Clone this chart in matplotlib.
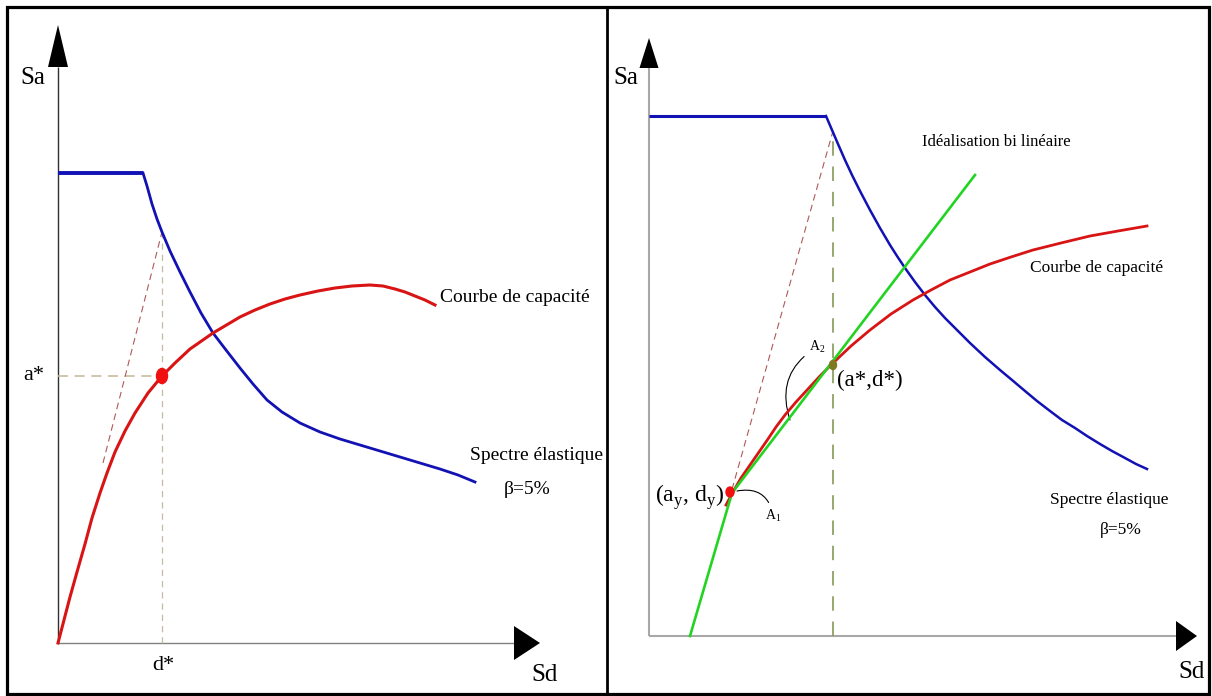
import matplotlib
matplotlib.use("Agg")
import matplotlib.pyplot as plt
import numpy as np
from matplotlib.patches import Rectangle, Ellipse
from matplotlib.lines import Line2D

plt.rcParams['font.family'] = ['Liberation Serif', 'DejaVu Serif']
plt.rcParams['mathtext.fontset'] = 'custom'
plt.rcParams['mathtext.rm'] = 'Liberation Serif'

# ---------------- Left panel: capacity curve vs. elastic spectrum ----------------
left_spec_sd = [0, 85, 89, 94, 99, 104, 112, 122, 132, 143, 155, 168, 182, 195, 209, 224,
                242, 262, 282, 302, 322, 342, 362, 382, 400, 417]
left_spec_sa = [470, 470, 457, 439, 424, 411, 392, 371, 351, 330, 310, 293, 275, 259, 243, 231,
                220, 211, 204, 198, 192, 186, 180, 174, 168, 161]

left_cap_sd = [0, 6, 12, 19, 27, 34, 42, 49, 57, 67, 77, 90, 104, 117, 132, 155, 182, 197,
               212, 227, 242, 260, 277, 294, 312, 325, 337, 347, 357, 367, 377]
left_cap_sa = [0, 23, 46, 71, 99, 125, 150, 170, 191, 212, 230, 250, 267, 280, 294, 310, 326, 333,
               339, 344, 348, 352, 355, 357, 358, 357, 354, 351, 347, 343, 338]

left_d_star, left_a_star = 104, 267
left_elastic_sd = [45, 104]
left_elastic_sa = [180, 411]

# ---------------- Right panel: bilinear idealisation ----------------
right_spec_sd = [0, 177, 183, 189, 196, 203, 211, 221, 231, 241, 248, 256, 266, 276, 286, 296,
                 308, 321, 336, 351, 363, 376, 388, 401, 413, 426, 438, 451, 463, 476, 487, 498]
right_spec_sa = [520, 520, 506, 492, 476, 461, 445, 426, 408, 391, 380, 368, 354, 341, 329, 318,
                 306, 293, 279, 266, 256, 245, 235, 225, 216, 208, 200, 192, 185, 178, 172, 167]

right_cap_sd = [77, 84, 92, 101, 110, 119, 127, 136, 147, 159, 171, 184, 202, 221, 242, 264,
                282, 301, 321, 341, 362, 384, 412, 441, 469, 498]
right_cap_sa = [131, 144, 158, 171, 184, 197, 209, 221, 234, 247, 260, 273, 290, 306, 322, 336,
                346, 356, 364, 372, 379, 386, 393, 400, 405, 410]

bilin_sd = [41, 83, 326]
bilin_sa = [0, 143, 461]

d_y, a_y = 83, 143
d_star, a_star = 184, 273
right_elastic_sd = [80, 184]
right_elastic_sa = [136, 505]

W, H = 1212, 696
fig = plt.figure(figsize=(W / 100, H / 100), dpi=100)
fig.patch.set_facecolor('white')

BLUE = '#1212b4'
RED = '#d81414'
GREEN = '#22d422'


def make_panel(rect, ox, oy, width):
    ax = fig.add_axes(rect)
    ax.set_xlim(-ox, width - ox)
    ax.set_ylim(-(H - oy), oy)
    ax.axis('off')
    return ax


def draw_axes(ax, x_end, y_end, head_len_x, head_half_x, head_len_y, head_half_y,
              color_x, color_y, lw):
    ax.plot([0, x_end - head_len_x], [0, 0], color=color_x, lw=lw, solid_capstyle='butt', zorder=1)
    ax.plot([0, 0], [0, y_end - head_len_y], color=color_y, lw=lw, solid_capstyle='butt', zorder=1)
    ax.fill([x_end - head_len_x, x_end, x_end - head_len_x],
            [-head_half_x, 0, head_half_x], color='black', lw=0, zorder=5)
    ax.fill([-head_half_y, 0, head_half_y],
            [y_end - head_len_y, y_end, y_end - head_len_y], color='black', lw=0, zorder=5)


# ---------- left ----------
axL = make_panel([0, 0, 606 / W, 1], 58, 643, 606)
draw_axes(axL, 482, 618, 26, 17, 42, 10, '#808080', '#303030', 1.0)

left_top = np.interp(left_d_star, left_spec_sd[1:], left_spec_sa[1:])
axL.plot([0, left_d_star], [left_a_star, left_a_star], color='#c8bc9c', lw=1.2,
         dashes=(6, 4), zorder=2)
axL.plot([left_d_star, left_d_star], [0, left_top], color='#c4baa8', lw=0.9,
         dashes=(5, 4), zorder=2)
axL.plot(left_elastic_sd, left_elastic_sa, color='#b05858', lw=0.8, dashes=(6, 4), zorder=2)

axL.plot(left_spec_sd[:2], left_spec_sa[:2], color=BLUE, lw=2.8, solid_capstyle='butt', zorder=3)
axL.plot(left_spec_sd[1:], left_spec_sa[1:], color=BLUE, lw=2.0, zorder=3)
axL.plot(left_cap_sd, left_cap_sa, color=RED, lw=2.2, zorder=4)
axL.add_patch(Ellipse((left_d_star, left_a_star), 11, 15, color='#f01010', zorder=6))

axL.text(-25, 565, 'Sa', fontsize=18, ha='center', va='center')
axL.text(487, -32, 'Sd', fontsize=18, ha='center', va='center')
axL.text(left_d_star + 1, -22, 'd*', fontsize=16, ha='center', va='center')
axL.text(-24, left_a_star, 'a*', fontsize=16, ha='center', va='center')
axL.text(382, 345, 'Courbe de capacité', fontsize=14, ha='left', va='center')
axL.text(412, 188, 'Spectre élastique', fontsize=14, ha='left', va='center')
axL.text(469, 153, 'β=5%', fontsize=14, ha='center', va='center')

# ---------- right ----------
axR = make_panel([606 / W, 0, 606 / W, 1], 43, 636, 606)
draw_axes(axR, 548, 598, 21, 15, 30, 9.5, '#a8a8a8', '#a8a8a8', 1.5)

right_top = np.interp(d_star, right_spec_sd[1:], right_spec_sa[1:])
axR.plot([d_star, d_star], [0, right_top], color='#8fa064', lw=1.3,
         dashes=(8, 6), zorder=2)
axR.plot(right_elastic_sd, right_elastic_sa, color='#b05858', lw=0.8, dashes=(6, 4), zorder=2)

axR.plot(right_spec_sd[:2], right_spec_sa[:2], color=BLUE, lw=2.2, solid_capstyle='butt', zorder=3)
axR.plot(right_spec_sd[1:], right_spec_sa[1:], color=BLUE, lw=1.8, zorder=3)
axR.plot(right_cap_sd, right_cap_sa, color=RED, lw=2.0, zorder=4)
axR.plot(bilin_sd, bilin_sa, color=GREEN, lw=1.9, zorder=4)
axR.add_patch(Ellipse((d_y - 2, a_y + 1), 8, 10, color='#f01010', zorder=6))
axR.add_patch(Ellipse((d_star, a_star - 2), 7, 9, color='#7f7a22', zorder=6))

axR.text(-23, 558, 'Sa', fontsize=18, ha='center', va='center')
axR.text(543, -36, 'Sd', fontsize=18, ha='center', va='center')
axR.text(273, 494, 'Idéalisation bi linéaire', fontsize=12, ha='left', va='center')
axR.text(381, 368, 'Courbe de capacité', fontsize=12.5, ha='left', va='center')
axR.text(401, 136, 'Spectre élastique', fontsize=12.5, ha='left', va='center')
axR.text(472, 106, 'β=5%', fontsize=12.5, ha='center', va='center')
axR.text(d_y - 8, a_y - 4, r'(a$_\mathregular{y}$, d$_\mathregular{y}$)', fontsize=17,
         ha='right', va='center')
axR.text(d_star + 4, a_star - 17, '(a*,d*)', fontsize=16.5, ha='left', va='center')

axR.annotate(r'A$_\mathregular{1}$', xy=(d_y + 5, a_y + 2), xytext=(116, 120),
             fontsize=10, ha='left', va='center',
             arrowprops=dict(arrowstyle='-', color='black', lw=0.8,
                             connectionstyle='arc3,rad=0.5', shrinkA=2, shrinkB=0))
axR.annotate(r'A$_\mathregular{2}$', xy=(141, 216), xytext=(160, 289),
             fontsize=10, ha='left', va='center',
             arrowprops=dict(arrowstyle='-', color='black', lw=0.8,
                             connectionstyle='arc3,rad=0.4', shrinkA=2, shrinkB=0))

# frame around the two panels
fig.add_artist(Rectangle((6.5 / W, 2 / H), (1209 - 6.5) / W, (694 - 6.5) / H,
                         transform=fig.transFigure, fill=False, ec='black', lw=2.3, zorder=20))
fig.add_artist(Line2D([607 / W, 607 / W], [2 / H, 1 - 6.5 / H], transform=fig.transFigure,
                      color='black', lw=2.0, zorder=20))

fig.savefig('out.png', dpi=100, facecolor='white')
